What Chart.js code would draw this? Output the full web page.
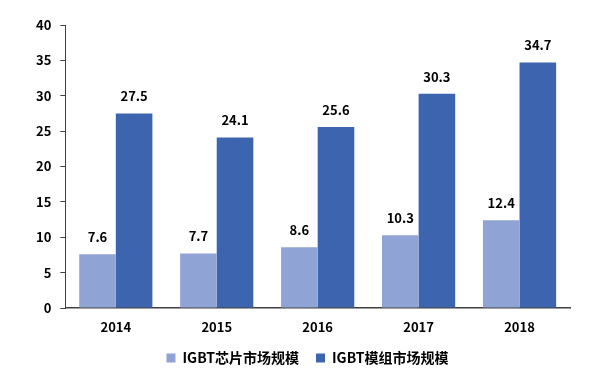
<!DOCTYPE html>
<html>
<head>
<meta charset="utf-8">
<script src="https://cdn.jsdelivr.net/npm/chart.js@4"></script>
<style>
  html, body { margin: 0; padding: 0; background: #fff; }
  #wrap { width: 611px; height: 378px; }
</style>
</head>
<body>
<div id="wrap"><canvas id="chart"></canvas></div>
<script>
const years = ['2014', '2015', '2016', '2017', '2018'];
const chipSize = [7.6, 7.7, 8.6, 10.3, 12.4];
const moduleSize = [27.5, 24.1, 25.6, 30.3, 34.7];
const yTicks = [0, 5, 10, 15, 20, 25, 30, 35, 40];

const FONT = '"Noto Sans CJK SC", "DejaVu Sans", sans-serif';

// value labels above bars, legend nudged right to sit under the plot
const barLabels = {
  id: 'barLabels',
  afterLayout(chart) {
    chart.legend.left += 9;
    chart.legend.right += 9;
  },
  afterDatasetsDraw(chart) {
    const ctx = chart.ctx;
    ctx.save();
    ctx.font = 'bold 13px ' + FONT;
    ctx.fillStyle = '#000';
    ctx.textAlign = 'center';
    ctx.textBaseline = 'middle';
    chart.data.datasets.forEach((ds, i) => {
      chart.getDatasetMeta(i).data.forEach((bar, j) => {
        ctx.fillText(ds.data[j].toFixed(1), bar.x, bar.y - 17);
      });
    });
    ctx.restore();
  }
};

new Chart(document.getElementById('chart'), {
  type: 'bar',
  data: {
    labels: years,
    datasets: [
      { label: 'IGBT芯片市场规模', data: chipSize, backgroundColor: '#8FA3D4' },
      { label: 'IGBT模组市场规模', data: moduleSize, backgroundColor: '#3D64AE' }
    ]
  },
  options: {
    responsive: true,
    maintainAspectRatio: false,
    animation: false,
    layout: { padding: { left: 27, right: 41, top: 25, bottom: 3 } },
    datasets: { bar: { barPercentage: 1, categoryPercentage: 0.725 } },
    plugins: {
      tooltip: { enabled: false },
      legend: {
        position: 'bottom',
        labels: {
          boxWidth: 9,
          boxHeight: 9,
          padding: 17,
          color: '#000',
          font: { family: FONT, size: 14, weight: 'bold' }
        }
      }
    },
    scales: {
      x: {
        grid: { display: false, drawTicks: false },
        border: { color: '#404040', width: 1.5 },
        ticks: { color: '#000', padding: 11, font: { family: FONT, size: 13, weight: 'bold' } },
        afterFit: scale => { scale.height = 26; }
      },
      y: {
        min: 0,
        max: 40,
        afterBuildTicks: axis => { axis.ticks = yTicks.map(v => ({ value: v })); },
        grid: { display: true, drawOnChartArea: false, drawTicks: true, tickLength: 5, color: '#404040' },
        border: { color: '#404040', width: 1 },
        ticks: { color: '#000', padding: 9, font: { family: FONT, size: 13, weight: 'bold' } }
      }
    }
  },
  plugins: [barLabels]
});
</script>
</body>
</html>
